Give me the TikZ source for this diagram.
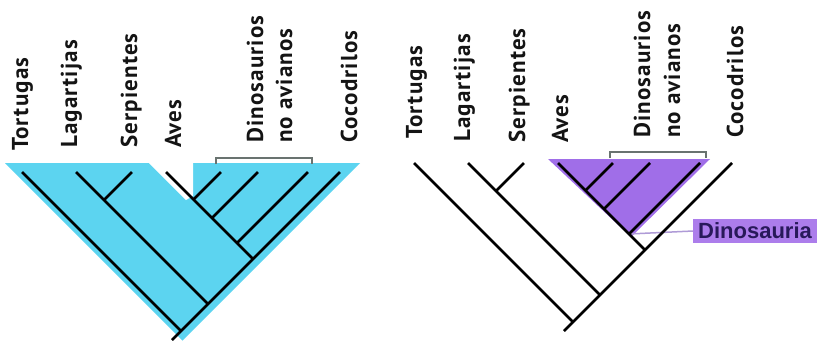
\documentclass[tikz,border=0pt]{standalone}
\usepackage{fontspec}
\setmainfont{PT Sans}
\newfontfamily\labfont[LetterSpace=5]{PT Sans}
\newfontfamily\dinofont{Liberation Sans}
\definecolor{cyanfill}{RGB}{92,212,240}
\definecolor{purplefill}{RGB}{160,110,232}
\definecolor{labelpurple}{RGB}{172,125,235}
\definecolor{navy}{RGB}{40,25,90}
\definecolor{bracketgray}{RGB}{105,115,112}
\definecolor{linkpurple}{RGB}{175,155,215}
\definecolor{labtext}{RGB}{20,20,20}
\tikzset{
  branch/.style={line width=2.8pt, black},
  bracketline/.style={line width=1.5pt, bracketgray},
  taxon/.style={rotate=90, anchor=base west, inner sep=0pt, text=labtext,
    font=\labfont\bfseries\fontsize{23}{27}\selectfont},
  dlabel/.style={fill=labelpurple, text=navy, inner xsep=5pt, inner ysep=0pt,
    minimum height=24pt, anchor=west,
    font=\dinofont\bfseries\fontsize{22}{22}\selectfont},
}
\newcommand\cladetree[1]{%
  \coordinate (#1root) at (181,331);
  \coordinate (#1stem) at (172,340);
  \coordinate (#1tort) at (22,172);
  \coordinate (#1coc) at (340,172);
  \coordinate (#1nlag) at (208,304);
  \coordinate (#1lag) at (76,172);
  \coordinate (#1nserp) at (104,200);
  \coordinate (#1serp) at (132,172);
  \coordinate (#1narch) at (253,259);
  \coordinate (#1aves) at (166,172);
  \coordinate (#1nda) at (193.5,199.5);
  \coordinate (#1da) at (221,172);
  \coordinate (#1ndb) at (212,218);
  \coordinate (#1db) at (258,172);
  \coordinate (#1ndc) at (237,243);
  \coordinate (#1dc) at (308,172);
}
\newcommand\cladelines[1]{%
  \draw[branch] (#1coc) -- (#1stem);
  \draw[branch] (#1tort) -- (#1root);
  \draw[branch] (#1lag) -- (#1nlag);
  \draw[branch] (#1serp) -- (#1nserp);
  \draw[branch] (#1aves) -- (#1narch);
  \draw[branch] (#1da) -- (#1nda);
  \draw[branch] (#1db) -- (#1ndb);
  \draw[branch] (#1dc) -- (#1ndc);
}
\begin{document}
\begin{tikzpicture}[x=1pt,y=-1pt]
\useasboundingbox (0,0) rectangle (820,341);
\fill[white] (0,0) rectangle (820,341);
% left tree
\fill[cyanfill] (5,163) -- (360,163) -- (182.5,340.5) -- cycle;
\fill[white] (149,163) -- (186,200) -- (193,196) -- (193,163) -- cycle;
\cladetree{L}
\cladelines{L}
\draw[bracketline] (216,164) -- (216,158) -- (312,158) -- (312,164);
% right tree
\begin{scope}[shift={(392,-9)}]
  \fill[purplefill] (156,168) -- (318,168) -- (239,246) -- cycle;
  \cladetree{R}
\end{scope}
\node[dlabel] (dlab) at (693,231) {Dinosauria};
\draw[linkpurple, line width=1.5pt] (Rndc) -- (dlab.west);
\cladelines{R}
\draw[bracketline] (610,158) -- (610,152) -- (706,152) -- (706,158);
% labels left
\node[taxon] (lt1) at (28,151) {Tortugas};
\node[taxon] (lt2) at (77,148) {Lagartijas};
\node[taxon] (lt3) at (137,148) {Serpientes};
\node[taxon] (lt4) at (181,148) {Aves};
\node[taxon] (lt5) at (263,143) {Dinosaurios};
\node[taxon] (lt6) at (292,143) {no avianos};
\node[taxon] (lt7) at (357,143) {Cocodrilos};
% labels right
\node[taxon] (rt1) at (422,139) {Tortugas};
\node[taxon] (rt2) at (470,142) {Lagartijas};
\node[taxon] (rt3) at (525,143) {Serpientes};
\node[taxon] (rt4) at (568,143) {Aves};
\node[taxon] (rt5) at (650,138) {Dinosaurios};
\node[taxon] (rt6) at (680,138) {no avianos};
\node[taxon] (rt7) at (743,138) {Cocodrilos};
\end{tikzpicture}
\end{document}
